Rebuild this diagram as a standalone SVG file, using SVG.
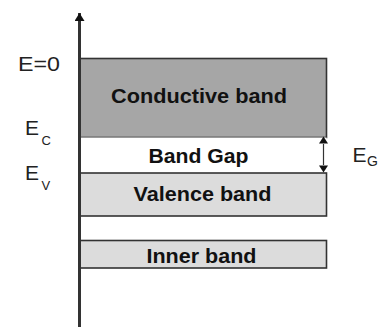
<svg xmlns="http://www.w3.org/2000/svg" width="387" height="327" viewBox="0 0 387 327">
<style>
.band{stroke:#333;stroke-width:1.6}
.bl{font-family:"Liberation Sans",Arial,sans-serif;font-weight:bold;fill:#111;text-anchor:middle}
.lab{font-family:"Liberation Sans",Arial,sans-serif;fill:#222}
.ax{stroke:#333;fill:none}
</style>
<defs>
<marker id="ah" viewBox="0 0 8 10" refX="8" refY="5" markerWidth="8" markerHeight="10" markerUnits="userSpaceOnUse" orient="auto-start-reverse">
<path d="M0,0 L8,5 L0,10 z" fill="#111"/>
</marker>
</defs>
<rect width="387" height="327" fill="#fff"/>
<g id="conductive">
<rect class="band" x="79" y="58.5" width="247.5" height="79" fill="#a6a6a6"/>
<text class="bl" x="199" y="103.3" font-size="21" textLength="176" lengthAdjust="spacingAndGlyphs">Conductive band</text>
</g>
<g id="gap">
<rect x="79" y="137.5" width="247.5" height="35.5" fill="#fff"/>
<text class="bl" x="198.5" y="163.3" font-size="20" textLength="100" lengthAdjust="spacingAndGlyphs">Band Gap</text>
</g>
<g id="valence">
<rect class="band" x="79" y="173" width="247.5" height="43" fill="#dcdcdc"/>
<text class="bl" x="202.5" y="200.5" font-size="20" textLength="138" lengthAdjust="spacingAndGlyphs">Valence band</text>
</g>
<g id="inner">
<rect class="band" x="79" y="240.5" width="247.5" height="27.5" fill="#dcdcdc"/>
<text class="bl" x="201.5" y="262.7" font-size="21" textLength="110" lengthAdjust="spacingAndGlyphs">Inner band</text>
</g>
<g id="connectors">
<line class="ax" x1="79.5" y1="327" x2="79.5" y2="13" stroke-width="3" marker-end="url(#ah)"/>
<line class="ax" x1="323.5" y1="144" x2="323.5" y2="165" stroke-width="1.2"/>
<path d="M319,143.5 L323.5,136.5 L328,143.5 z" fill="#111"/>
<path d="M319,165.5 L323.5,172.5 L328,165.5 z" fill="#111"/>
</g>
<g id="labels">
<text class="lab" x="18" y="70.7" font-size="19.5" textLength="42" lengthAdjust="spacingAndGlyphs">E=0</text>
<text class="lab" x="25" y="135" font-size="21">E</text>
<text class="lab" x="41.5" y="145" font-size="13">C</text>
<text class="lab" x="25" y="180" font-size="21">E</text>
<text class="lab" x="41.5" y="190" font-size="13">V</text>
<text class="lab" x="352.5" y="161.7" font-size="21">E</text>
<text class="lab" x="367" y="165.5" font-size="14">G</text>
</g>
</svg>
